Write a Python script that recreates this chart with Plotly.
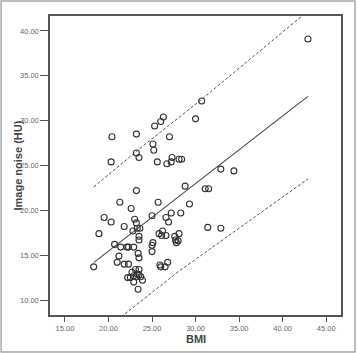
import plotly.graph_objects as go

# Scatter data (BMI, image noise HU)
bmi = [20.4, 20.3, 23.2, 23.2, 23.5, 25.1, 25.2, 25.3, 26.0, 26.3, 27.0, 25.6, 26.7, 27.2, 27.3, 28.1, 28.4,
       42.9, 30.7, 30.0, 32.9, 34.4, 28.8, 31.1, 31.5, 29.3, 28.3, 28.1, 28.0, 31.4, 32.9,
       23.2, 21.3, 25.7, 22.6, 19.5, 20.3, 18.9, 21.8, 23.0, 23.2, 23.3, 23.6, 22.8, 23.5, 23.5,
       25.0, 26.6, 27.2, 26.9, 25.8, 26.2, 26.6, 26.1, 27.6, 27.7, 27.8, 25.1, 25.0, 25.0,
       20.7, 21.4, 22.1, 22.3, 22.9, 21.2, 23.4, 23.5,
       21.0, 21.8, 22.3, 18.3, 23.1, 23.5, 22.7, 22.2, 22.9, 23.5, 23.7, 23.2, 23.9, 22.9, 23.4,
       25.9, 26.0, 26.5, 26.8, 22.5, 23.3]
noise = [28.2, 25.4, 28.5, 26.4, 25.9, 27.4, 26.7, 29.4, 29.9, 30.4, 28.2, 25.4, 25.2, 25.4, 25.9, 25.7, 25.7,
         39.1, 32.2, 30.2, 24.6, 24.4, 22.7, 22.4, 22.4, 20.7, 19.7, 17.4, 16.6, 18.1, 18.0,
         22.2, 20.9, 20.9, 20.2, 19.2, 18.7, 17.4, 18.2, 19.0, 18.6, 18.0, 18.0, 17.7, 17.1, 16.7,
         19.4, 19.2, 19.7, 18.7, 17.4, 17.7, 17.2, 17.2, 17.1, 16.7, 16.4, 16.4, 16.1, 15.4,
         16.2, 15.9, 15.9, 15.9, 15.9, 14.9, 15.2, 14.7,
         14.2, 14.0, 14.0, 13.7, 13.4, 13.4, 13.1, 12.5, 12.7, 12.8, 12.6, 12.6, 12.2, 12.0, 11.2,
         13.9, 13.7, 13.7, 14.2, 12.5, 12.9]

# Fit line and prediction interval lines
fit_x = [18.33, 42.9]
fit_y = [14.2, 32.7]
upper_x = [18.3, 23.6, 30.6, 43.0]
upper_y = [22.6, 26.9, 32.3, 42.3]
lower_x = [18.3, 21.7, 28.0, 42.9]
lower_y = [5.7, 8.33, 13.15, 23.5]

x_ticks = [15, 20, 25, 30, 35, 40, 45]
y_ticks = [10, 15, 20, 25, 30, 35, 40]
x_title = "BMI"
y_title = "Image noise (HU)"

fig = go.Figure()
fig.add_trace(go.Scatter(x=upper_x, y=upper_y, mode="lines",
                         line=dict(color="#555555", width=1, dash="3px,2px"), hoverinfo="skip"))
fig.add_trace(go.Scatter(x=lower_x, y=lower_y, mode="lines",
                         line=dict(color="#555555", width=1, dash="3px,2px"), hoverinfo="skip"))
fig.add_trace(go.Scatter(x=fit_x, y=fit_y, mode="lines",
                         line=dict(color="#444444", width=1.1), hoverinfo="skip"))
fig.add_trace(go.Scatter(x=bmi, y=noise, mode="markers",
                         marker=dict(symbol="circle-open", size=6, color="#333333",
                                     line=dict(width=1.1, color="#333333"))))

axis_common = dict(showgrid=False, zeroline=False, showline=True, linecolor="#555555",
                   linewidth=1.5, mirror=True, ticks="outside", tickcolor="#555555",
                   automargin=False,
                   tickfont=dict(family="Liberation Sans", size=7.5, color="#666666"))

fig.update_xaxes(range=[13.28, 46.7], tickvals=x_ticks, ticklen=5,
                 ticktext=[f"{v:.2f}" for v in x_ticks], **axis_common)
fig.update_yaxes(range=[8.33, 41.67], tickvals=y_ticks, ticklen=8,
                 ticktext=[f"{v:.2f}" for v in y_ticks], **axis_common)

title_font = dict(family="Liberation Sans", size=11, color="#444444")
fig.add_annotation(text=f"<b>{x_title}</b>", xref="paper", yref="paper", x=0.5, y=-0.08,
                   showarrow=False, font=title_font, xanchor="center", yanchor="middle")
fig.add_annotation(text=f"<b>{y_title}</b>", xref="paper", yref="paper", x=-0.11, y=0.5,
                   showarrow=False, font=title_font, textangle=-90,
                   xanchor="center", yanchor="middle")

# outer frame
fig.add_shape(type="rect", xref="paper", yref="paper",
              x0=-0.168, x1=1.048, y0=-0.124, y1=1.050,
              line=dict(color="#a8a8a8", width=1.5), fillcolor="rgba(0,0,0,0)", layer="below")

fig.update_layout(width=358, height=353, showlegend=False,
                  margin=dict(l=50, r=17, t=16, b=38),
                  plot_bgcolor="white", paper_bgcolor="white")

fig.write_html("out.html")
